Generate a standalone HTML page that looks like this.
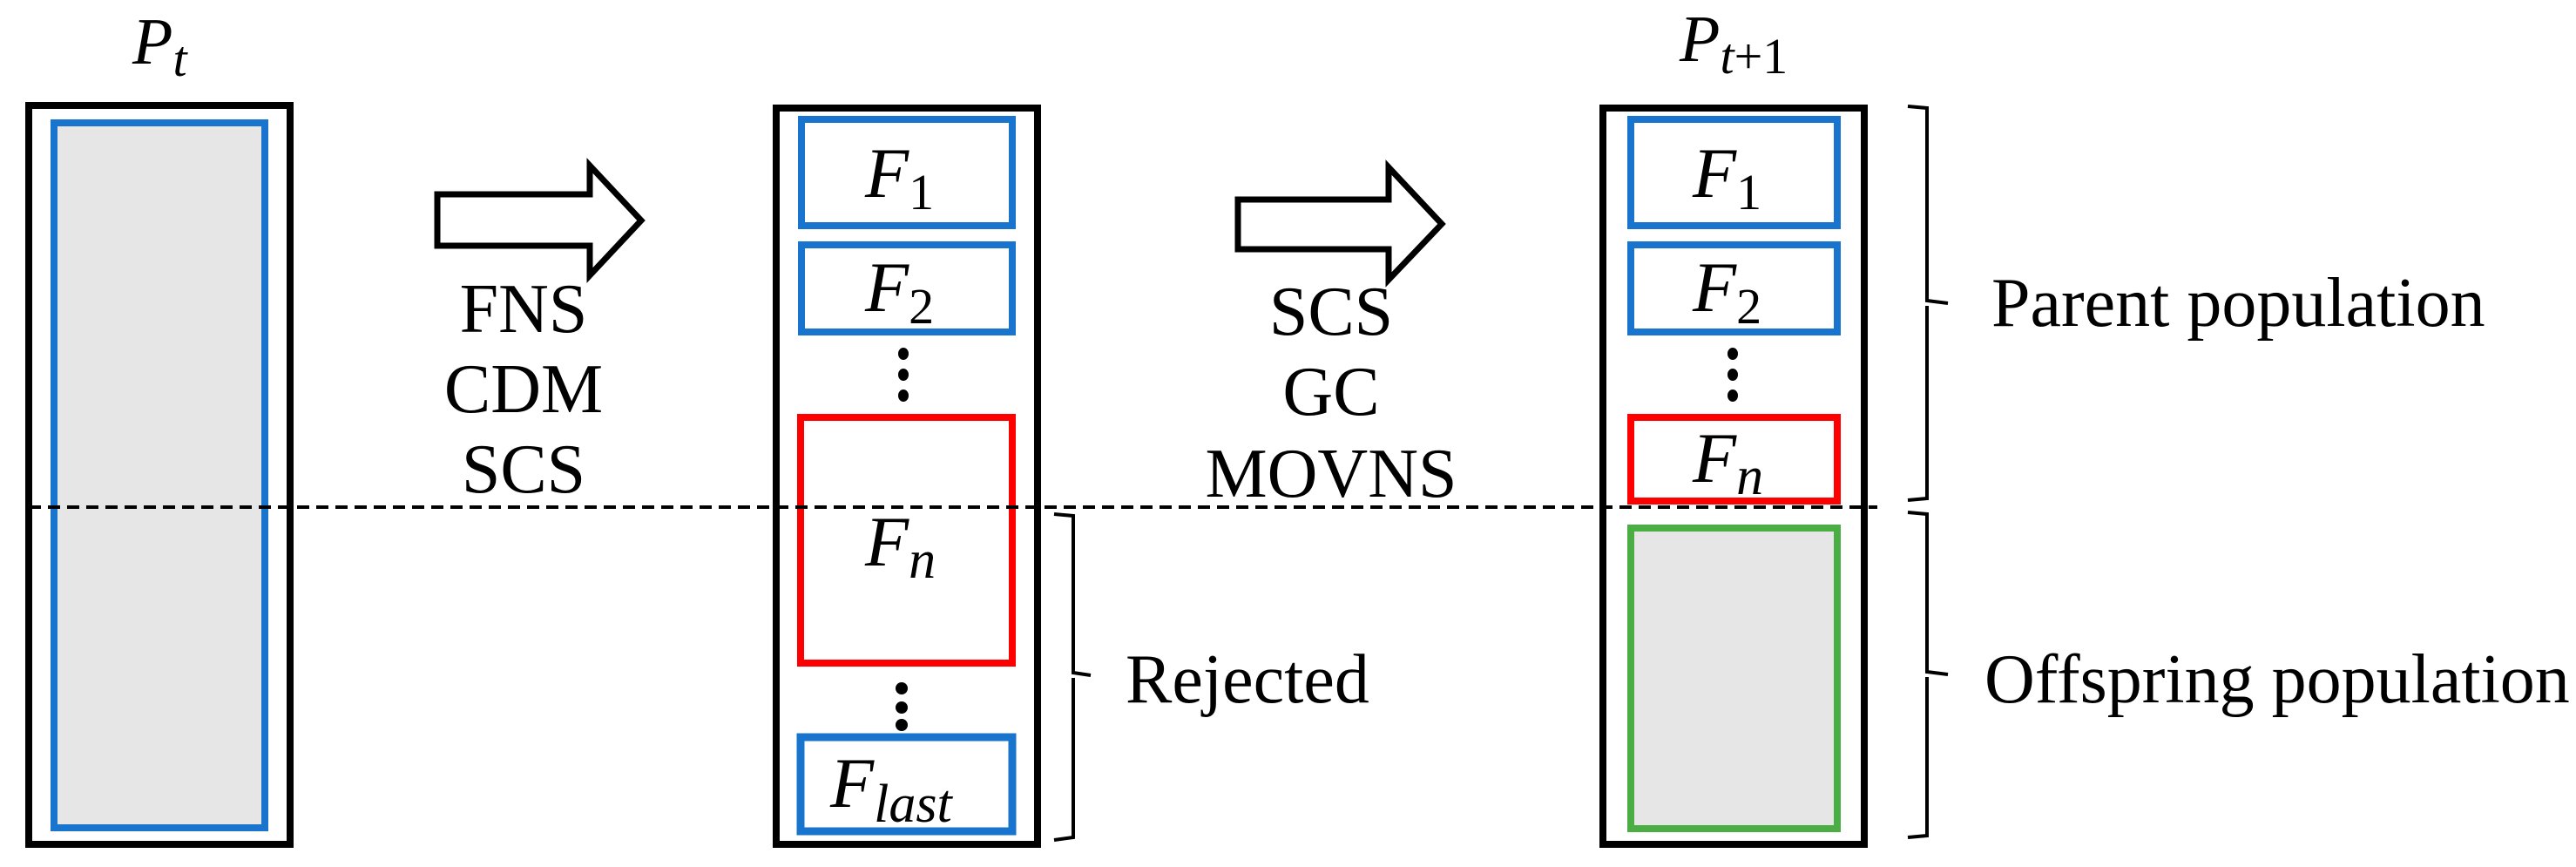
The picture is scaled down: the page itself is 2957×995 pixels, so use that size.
<!DOCTYPE html>
<html><head><meta charset="utf-8"><style>html,body{margin:0;padding:0;background:#fff}svg{display:block}svg text{font-family:"Liberation Serif","Times New Roman",Times,"DejaVu Serif",serif}</style></head>
<body>
<svg width="2957" height="995" viewBox="0 0 2957 995" xmlns="http://www.w3.org/2000/svg" font-family="'Liberation Serif', 'Times New Roman', serif">
<rect x="33" y="121" width="300" height="848" fill="#fff" stroke="#000" stroke-width="8"/>
<rect x="62" y="141" width="242" height="809" fill="#e6e6e6" stroke="#1874cd" stroke-width="8"/>
<text x="152" y="73" font-size="76" font-style="italic">P<tspan font-size="58" dy="14">t</tspan></text>

<polygon points="502,223 677,223 677,190 736,253 677,316 677,282 502,282" fill="#fff" stroke="#000" stroke-width="7"/>
<g font-size="80" text-anchor="middle">
<text x="601" y="381">FNS</text>
<text x="601" y="473">CDM</text>
<text x="601" y="565">SCS</text>
</g>

<rect x="891" y="124" width="300" height="845" fill="#fff" stroke="#000" stroke-width="8"/>
<rect x="920" y="137" width="242" height="122" fill="none" stroke="#1874cd" stroke-width="8"/>
<rect x="920" y="281" width="242" height="100" fill="none" stroke="#1874cd" stroke-width="8"/>
<rect x="919" y="479" width="243" height="282" fill="none" stroke="#ff0000" stroke-width="8"/>
<rect x="919" y="846" width="243" height="108" fill="none" stroke="#1874cd" stroke-width="9"/>
<g fill="#000">
<ellipse cx="1037" cy="406" rx="6" ry="7"/><ellipse cx="1037" cy="430" rx="6" ry="7"/><ellipse cx="1037" cy="454" rx="6" ry="7"/>
<ellipse cx="1035" cy="790" rx="7" ry="7"/><ellipse cx="1035" cy="812" rx="7" ry="7"/><ellipse cx="1035" cy="832" rx="7" ry="7"/>
</g>
<g font-size="82" font-style="italic">
<text x="993" y="226">F<tspan font-size="58" font-style="normal" dy="14">1</tspan></text>
<text x="993" y="357">F<tspan font-size="58" font-style="normal" dy="14">2</tspan></text>
<text x="993" y="649">F<tspan font-size="62" dy="14">n</tspan></text>
<text x="953" y="926">F<tspan font-size="62" dy="17">last</tspan></text>
</g>
<path d="M1210,590 L1232,592 L1232,772 L1252,775 M1232,778 L1232,961 L1210,964" fill="none" stroke="#000" stroke-width="4"/>
<text x="1292" y="806" font-size="80">Rejected</text>

<polygon points="1421,229 1594,229 1594,192 1655,257 1594,321 1594,286 1421,286" fill="#fff" stroke="#000" stroke-width="7"/>
<g font-size="80" text-anchor="middle">
<text x="1528" y="384">SCS</text>
<text x="1528" y="476">GC</text>
<text x="1528" y="570">MOVNS</text>
</g>

<rect x="1840" y="124" width="300" height="845" fill="#fff" stroke="#000" stroke-width="8"/>
<rect x="1872" y="137" width="237" height="122" fill="none" stroke="#1874cd" stroke-width="8"/>
<rect x="1872" y="281" width="237" height="100" fill="none" stroke="#1874cd" stroke-width="8"/>
<rect x="1872" y="479" width="237" height="96" fill="none" stroke="#ff0000" stroke-width="8"/>
<rect x="1872" y="606" width="237" height="345" fill="#e6e6e6" stroke="#4aae44" stroke-width="8"/>
<g fill="#000">
<ellipse cx="1989" cy="406" rx="6" ry="7"/><ellipse cx="1989" cy="430" rx="6" ry="7"/><ellipse cx="1989" cy="454" rx="6" ry="7"/>
</g>
<g font-size="82" font-style="italic">
<text x="1943" y="226">F<tspan font-size="58" font-style="normal" dy="14">1</tspan></text>
<text x="1943" y="357">F<tspan font-size="58" font-style="normal" dy="14">2</tspan></text>
<text x="1943" y="553">F<tspan font-size="62" dy="14">n</tspan></text>
</g>
<text x="1928" y="70" font-size="76" font-style="italic">P<tspan font-size="58" dy="14">t</tspan><tspan font-size="58" font-style="normal">+1</tspan></text>

<line x1="33" y1="582" x2="2155" y2="582" stroke="#000" stroke-width="4" stroke-dasharray="14,8"/>

<path d="M2190,122 L2212,124 L2212,345 L2236,348 M2212,351 L2212,572 L2190,574" fill="none" stroke="#000" stroke-width="4"/>
<text x="2286" y="374" font-size="80">Parent population</text>
<path d="M2190,588 L2212,590 L2212,771 L2236,774 M2212,777 L2212,959 L2190,961" fill="none" stroke="#000" stroke-width="4"/>
<text x="2278" y="806" font-size="80">Offspring population</text>
</svg>
</body></html>
